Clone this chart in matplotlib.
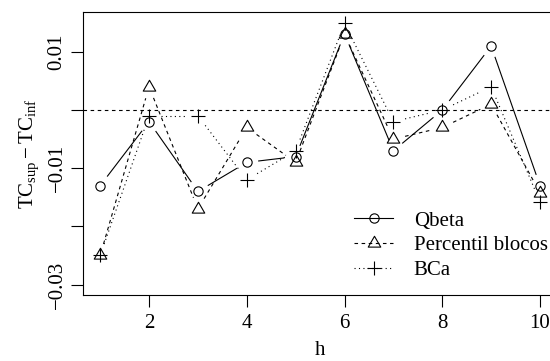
import numpy as np
import matplotlib
matplotlib.use("Agg")
import matplotlib.pyplot as plt
from matplotlib.path import Path

plt.rcParams['font.family'] = ['Liberation Serif', 'DejaVu Serif']
plt.rcParams['mathtext.fontset'] = 'custom'
plt.rcParams['mathtext.rm'] = 'Liberation Serif'
plt.rcParams['mathtext.it'] = 'Liberation Serif:italic'

h = [1, 2, 3, 4, 5, 6, 7, 8, 9, 10]
qbeta = [-0.013, -0.002, -0.014, -0.009, -0.008, 0.0131, -0.007, 0.0, 0.011, -0.013]
percentil = [-0.025, 0.004, -0.017, -0.003, -0.009, 0.013, -0.005, -0.003, 0.001, -0.0142]
bca = [-0.025, -0.001, -0.001, -0.012, -0.007, 0.0149, -0.002, 0.0, 0.004, -0.0158]
labels = ["Qbeta", "Percentil blocos", "BCa"]

# triangle like R's pch=2 (centroid at the point)
tri = Path([(0, 1.555), (1.3468, -0.7776), (-1.3468, -0.7776), (0, 1.555)],
           [Path.MOVETO, Path.LINETO, Path.LINETO, Path.CLOSEPOLY])

lw = 0.8
styles = [
    dict(marker='o', ms=6.7, ls='-'),
    dict(marker=tri, ms=10.4, ls=(0, (3.2, 3.2))),
    dict(marker='+', ms=9.5, ls=(0, (1, 3))),
]

fig = plt.figure(figsize=(5.5, 3.61), dpi=100)
ax = fig.add_axes([82.6 / 550, 66 / 361, 475 / 550, 282.7 / 361])
ax.set_xlim(0.64, 10.36)
ax.set_ylim(-0.0318, 0.0168)

ax.axhline(0, color='black', lw=lw, ls=(0, (3.2, 3.2)))

gap = 12.0  # px, like type="b"
handles = []
for ys, st in zip([qbeta, percentil, bca], styles):
    pts = ax.transData.transform(np.column_stack([h, ys]))
    for p0, p1 in zip(pts[:-1], pts[1:]):
        d = p1 - p0
        L = np.hypot(*d)
        if L <= 2 * gap:
            continue
        u = d / L
        seg = ax.transData.inverted().transform(np.array([p0 + u * gap, p1 - u * gap]))
        ax.plot(seg[:, 0], seg[:, 1], color='black', lw=lw, ls=st['ls'])
    ax.plot(h, ys, ls='none', marker=st['marker'], ms=st['ms'], mfc='none',
            mec='black', mew=lw)
    handles.append(plt.Line2D([], [], color='black', lw=lw, ls=st['ls'],
                              marker=st['marker'], ms=st['ms'], mfc='none',
                              mec='black', mew=lw))

ax.set_xticks([2, 4, 6, 8, 10])
ax.set_yticks([-0.03, -0.02, -0.01, 0, 0.01])
ax.set_yticklabels(['\u22120.03', '', '\u22120.01', '', '0.01'])
ax.tick_params(axis='both', labelsize=15, length=8.6, width=lw, direction='out',
               pad=5)
ax.tick_params(axis='y', pad=3)
for t in ax.get_yticklabels():
    t.set_rotation(90)
    t.set_va('center')
for s in ax.spines.values():
    s.set_linewidth(lw)

ax.set_xlabel('h', fontsize=15, labelpad=6)
ax.set_ylabel(r'$\mathrm{TC}_{\mathrm{sup}} - \mathrm{TC}_{\mathrm{inf}}$',
              fontsize=15, labelpad=5)

ax.legend(handles, labels, loc='center left', bbox_to_anchor=(0.572, 0.175),
          frameon=False, fontsize=15, handlelength=1.85, handletextpad=1.0,
          labelspacing=0.25, borderpad=0, borderaxespad=0)

fig.savefig('out.png', dpi=100)
